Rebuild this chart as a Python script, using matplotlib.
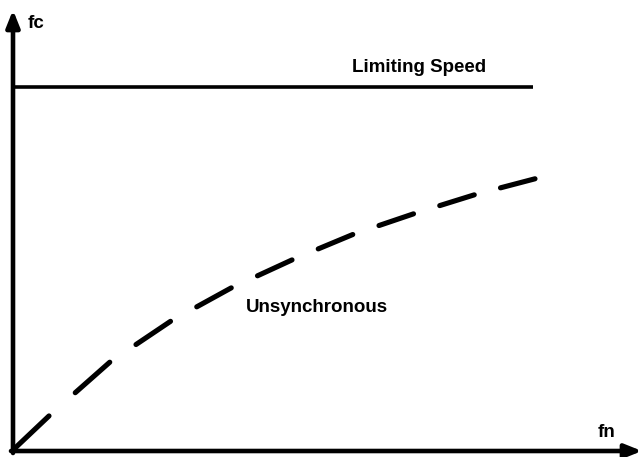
import matplotlib.pyplot as plt
import numpy as np

# curve (arbitrary units, origin at the axes corner)
fn = np.array([0, 37, 97, 158, 218, 281, 341, 403, 464, 525])
fc = np.array([1, 36, 89, 130, 163, 192, 217, 238, 257, 273])

limit_fn = [0, 520]
limit_fc = [364, 364]

plt.rcParams['font.family'] = ['Liberation Sans', 'DejaVu Sans']

fig = plt.figure(figsize=(6.44, 4.57), dpi=100)
ax = fig.add_axes([0, 0, 1, 1])
ax.set_xlim(-13, 631)
ax.set_ylim(-6, 451)
ax.axis('off')

# axes with arrow heads
arrow = dict(arrowstyle='-|>,head_length=1.0,head_width=0.4', lw=3.3,
             color='black', shrinkA=0, shrinkB=0)
ax.annotate('', xy=(0, 441), xytext=(0, -2), arrowprops=arrow)
ax.annotate('', xy=(629, 0), xytext=(-2, 0), arrowprops=arrow)

# limiting speed line
ax.plot(limit_fn, limit_fc, color='black', lw=2.6, solid_capstyle='butt')

# dashed curve: dashes are spaced evenly along fn
period = 60.75
for start in np.arange(0, fn.max() - 30, period):
    xs = np.linspace(start + 1.5, min(start + 36, fn.max() - 2), 20)
    ys = np.interp(xs, fn, fc)
    ax.plot(xs, ys, color='black', lw=3.7, solid_capstyle='round')

font = dict(fontsize=13.5, fontweight='bold', color='black')
ax.text(15, 423, 'fc', ha='left', va='baseline', **font)
ax.text(585, 14, 'fn', ha='left', va='baseline', **font)
ax.text(339, 379, 'Limiting Speed', ha='left', va='baseline', **font)
ax.text(233, 139, 'Unsynchronous', ha='left', va='baseline', **font)

fig.savefig('out.png', dpi=100)
